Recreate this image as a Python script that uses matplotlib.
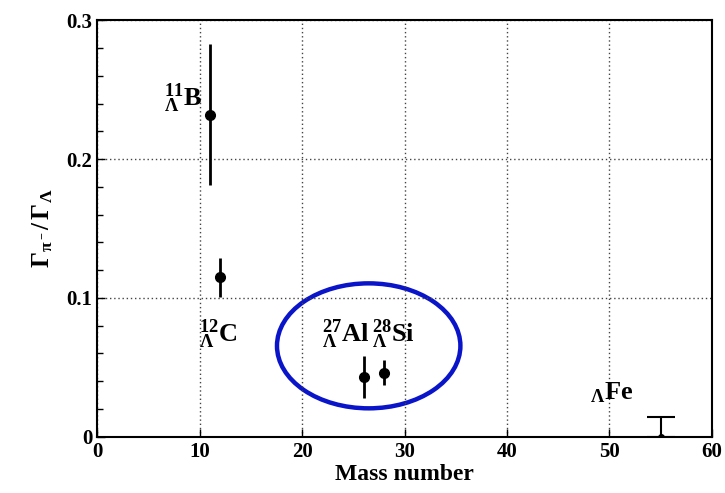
import numpy as np
import matplotlib.pyplot as plt
from matplotlib.patches import Ellipse

plt.rcParams['font.family'] = 'Liberation Serif'
plt.rcParams['font.weight'] = 'bold'
plt.rcParams['mathtext.fontset'] = 'custom'
plt.rcParams['mathtext.rm'] = 'Liberation Serif:bold'
plt.rcParams['mathtext.it'] = 'Liberation Serif:bold'
plt.rcParams['mathtext.bf'] = 'Liberation Serif:bold'

# dados
massa = [11, 12, 26, 28]
razao = [0.232, 0.115, 0.043, 0.046]
erro = [0.051, 0.014, 0.015, 0.009]
nomes = [r'$^{11}_{\Lambda}$B', r'$^{12}_{\Lambda}$C', r'$^{27}_{\Lambda}$Al', r'$^{28}_{\Lambda}$Si']
pos_nomes = [(6.5, 0.238), (9.9, 0.068), (21.9, 0.068), (26.8, 0.068)]

# limite superior do Fe
massa_fe = 55
limite_fe = 0.014

fig = plt.figure(figsize=(7.25, 4.93), dpi=100)
ax = fig.add_axes([0.134, 0.114, 0.848, 0.845])

ax.errorbar(massa, razao, yerr=erro, fmt='o', color='black', ms=7,
            elinewidth=2, capsize=0)
ax.errorbar([massa_fe], [0], yerr=[[0], [limite_fe]], fmt='o', color='black',
            ms=4, elinewidth=1.5, capsize=10, capthick=1.5)

for nome, (x, y) in zip(nomes, pos_nomes):
    ax.text(x, y, nome, fontsize=19, fontweight='bold')
ax.text(48.1, 0.027, r'$_{\Lambda}$Fe', fontsize=19, fontweight='bold')

ax.add_patch(Ellipse((26.5, 0.0655), 17.9, 0.09, fill=False,
                     edgecolor='#0a14c8', linewidth=3.2))

ax.set_xlim(0, 60)
ax.set_ylim(0, 0.3)
ax.set_xticks(np.arange(0, 61, 10))
ax.set_yticks([0, 0.1, 0.2, 0.3])
ax.set_yticklabels(['0', '0.1', '0.2', '0.3'])
ax.set_yticks(np.arange(0, 0.3, 0.02), minor=True)
ax.tick_params(direction='in', labelsize=15, length=6, width=1)
ax.tick_params(which='minor', direction='in', length=4, width=1)
ax.grid(True, which='major', linestyle=(0, (1, 2)), color='#444444', linewidth=1)
for s in ax.spines.values():
    s.set_linewidth(1.5)

ax.set_xlabel('Mass number', fontsize=17, fontweight='bold', labelpad=2)
ax.set_ylabel(r'$\Gamma_{\pi^-}/\,\Gamma_{\Lambda}$', fontsize=18, labelpad=8)

fig.savefig('out.png', dpi=100)
